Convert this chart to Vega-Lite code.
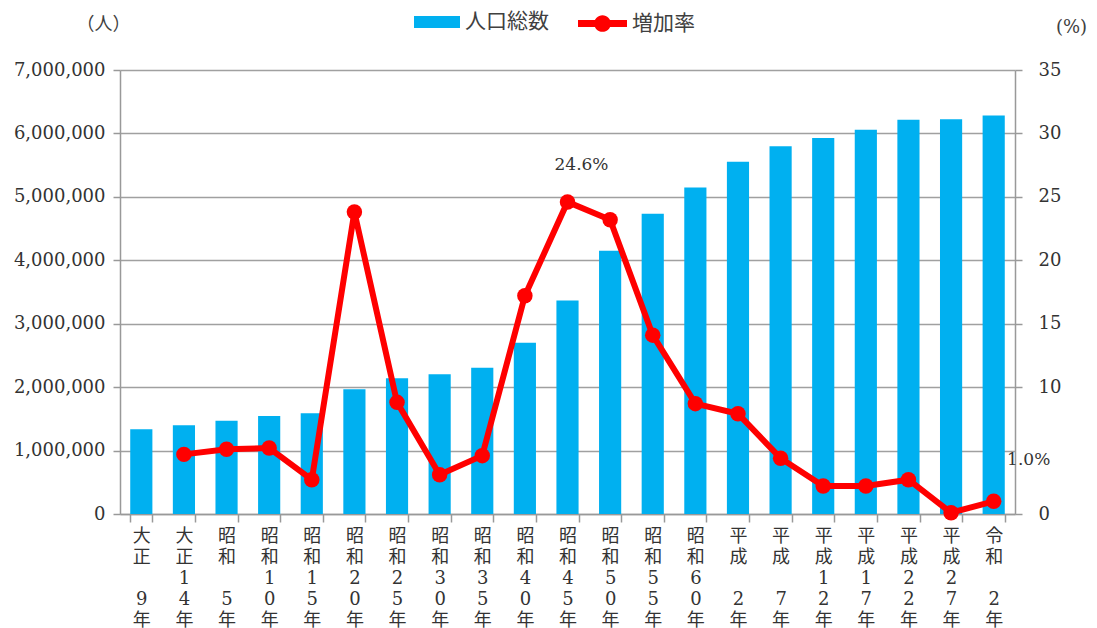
{
  "$schema": "https://vega.github.io/schema/vega-lite/v6.json",
  "width": 895,
  "height": 444,
  "autosize": "none",
  "padding": {"left": 120, "top": 70, "right": 82, "bottom": 114},
  "background": "white",
  "config": {
    "view": {"stroke": null},
    "axis": {"domainColor": "#999999", "tickColor": "#999999", "gridColor": "#a0a0a0", "domainWidth": 1.5, "tickWidth": 1.5, "gridWidth": 1.5}
  },
  "data": {
    "values": [
      {"時点": "大正\u28009年", "人口": 1336155, "増加率": null},
      {"時点": "大正14年", "人口": 1399257, "増加率": 4.7},
      {"時点": "昭和\u28005年", "人口": 1470121, "増加率": 5.1},
      {"時点": "昭和10年", "人口": 1546394, "増加率": 5.2},
      {"時点": "昭和15年", "人口": 1588425, "増加率": 2.7},
      {"時点": "昭和20年", "人口": 1966862, "増加率": 23.8},
      {"時点": "昭和25年", "人口": 2139037, "増加率": 8.8},
      {"時点": "昭和30年", "人口": 2205060, "増加率": 3.1},
      {"時点": "昭和35年", "人口": 2306010, "増加率": 4.6},
      {"時点": "昭和40年", "人口": 2701770, "増加率": 17.2},
      {"時点": "昭和45年", "人口": 3366624, "増加率": 24.6, "注記": "24.6%"},
      {"時点": "昭和50年", "人口": 4149147, "増加率": 23.2},
      {"時点": "昭和55年", "人口": 4735424, "増加率": 14.1},
      {"時点": "昭和60年", "人口": 5148163, "増加率": 8.7},
      {"時点": "平成\u28002年", "人口": 5555429, "増加率": 7.9},
      {"時点": "平成\u28007年", "人口": 5797782, "増加率": 4.4},
      {"時点": "平成12年", "人口": 5926285, "増加率": 2.2},
      {"時点": "平成17年", "人口": 6056462, "増加率": 2.2},
      {"時点": "平成22年", "人口": 6216289, "増加率": 2.7},
      {"時点": "平成27年", "人口": 6222666, "増加率": 0.1},
      {"時点": "令和\u28002年", "人口": 6284480, "増加率": 1.0, "注記": "1.0%"}
    ]
  },
  "encoding": {
    "x": {
      "field": "時点",
      "type": "ordinal",
      "sort": null,
      "scale": {"paddingInner": 0.48, "paddingOuter": 0.24},
      "axis": {
        "title": null,
        "labelAngle": 0,
        "tickBand": "extent",
        "tickSize": 8,
        "labelPadding": 5,
        "labelBaseline": "top",
        "labelFont": "DejaVu Serif, Noto Sans CJK JP",
        "labelFontSize": 18,
        "labelLineHeight": 21,
        "labelColor": "#333333",
        "labelExpr": "isString(datum.value) ? split(datum.value, '') : ''"
      }
    }
  },
  "layer": [
    {
      "mark": {"type": "bar"},
      "encoding": {
        "y": {
          "field": "人口",
          "type": "quantitative",
          "scale": {"domain": [0, 7000000]},
          "axis": {
            "orient": "left",
            "values": [0, 1000000, 2000000, 3000000, 4000000, 5000000, 6000000, 7000000],
            "format": ",d",
            "grid": true,
            "tickSize": 7,
            "labelPadding": 8,
            "labelFont": "DejaVu Serif",
            "labelFontSize": 18,
            "labelColor": "#333333",
            "title": "（人）",
            "titleAngle": 0,
            "titleAlign": "center",
            "titleBaseline": "middle",
            "titleX": -17,
            "titleY": -46,
            "titleFont": "Noto Sans CJK JP",
            "titleFontSize": 18,
            "titleFontWeight": "normal",
            "titleColor": "#404040"
          }
        },
        "fill": {
          "datum": "人口総数",
          "type": "nominal",
          "scale": {"domain": ["人口総数"], "range": ["#00B0F0"]},
          "legend": {
            "title": null,
            "orient": "none",
            "legendX": 294,
            "legendY": -71,
            "symbolType": "M-1,-0.26H1V0.26H-1Z",
            "symbolSize": 2116,
            "symbolStrokeWidth": 0,
            "labelFont": "Noto Sans CJK JP",
            "labelFontSize": 21,
            "labelColor": "#404040",
            "labelOffset": 5
          }
        }
      }
    },
    {
      "encoding": {
        "y": {
          "field": "増加率",
          "type": "quantitative",
          "scale": {"domain": [0, 35]},
          "axis": {
            "orient": "right",
            "values": [0, 10, 15, 20, 25, 30, 35],
            "grid": false,
            "tickSize": 7,
            "labelPadding": 16,
            "labelFont": "DejaVu Serif",
            "labelFontSize": 18,
            "labelColor": "#333333",
            "title": "(%)",
            "titleAngle": 0,
            "titleAlign": "center",
            "titleBaseline": "middle",
            "titleX": 56,
            "titleY": -43,
            "titleFont": "DejaVu Serif",
            "titleFontSize": 18,
            "titleFontWeight": "normal",
            "titleColor": "#404040"
          }
        }
      },
      "layer": [
        {
          "transform": [{"filter": "datum['増加率'] != null"}],
          "mark": {"type": "line", "strokeWidth": 6},
          "encoding": {
            "color": {
              "datum": "増加率",
              "type": "nominal",
              "scale": {"domain": ["増加率"], "range": ["#FF0000"]},
              "legend": {
                "title": null,
                "orient": "none",
                "legendX": 458,
                "legendY": -71,
                "symbolType": "M-1,-0.14H1V0.14H-1Z M-0.34,0A0.34,0.34 0 1,1 0.34,0A0.34,0.34 0 1,1 -0.34,0Z",
                "symbolSize": 2401,
                "symbolFillColor": "#FF0000",
                "symbolStrokeColor": "#FF0000",
                "symbolStrokeWidth": 0,
                "labelFont": "Noto Sans CJK JP",
                "labelFontSize": 21,
                "labelColor": "#404040",
                "labelOffset": 5
              }
            }
          }
        },
        {
          "transform": [{"filter": "datum['増加率'] != null"}],
          "mark": {"type": "point", "filled": true, "opacity": 1, "size": 240, "shape": "circle", "color": "#FF0000"},
          "encoding": {}
        },
        {
          "transform": [{"filter": "datum['注記'] == '24.6%'"}],
          "mark": {"type": "text", "dx": 14, "dy": -37, "font": "DejaVu Serif", "fontSize": 17, "color": "#333333"},
          "encoding": {"text": {"field": "注記"}}
        },
        {
          "transform": [{"filter": "datum['注記'] == '1.0%'"}],
          "mark": {"type": "text", "dx": 35, "dy": -41, "font": "DejaVu Serif", "fontSize": 17, "color": "#333333"},
          "encoding": {"text": {"field": "注記"}}
        }
      ]
    }
  ],
  "resolve": {"scale": {"y": "independent"}}
}
